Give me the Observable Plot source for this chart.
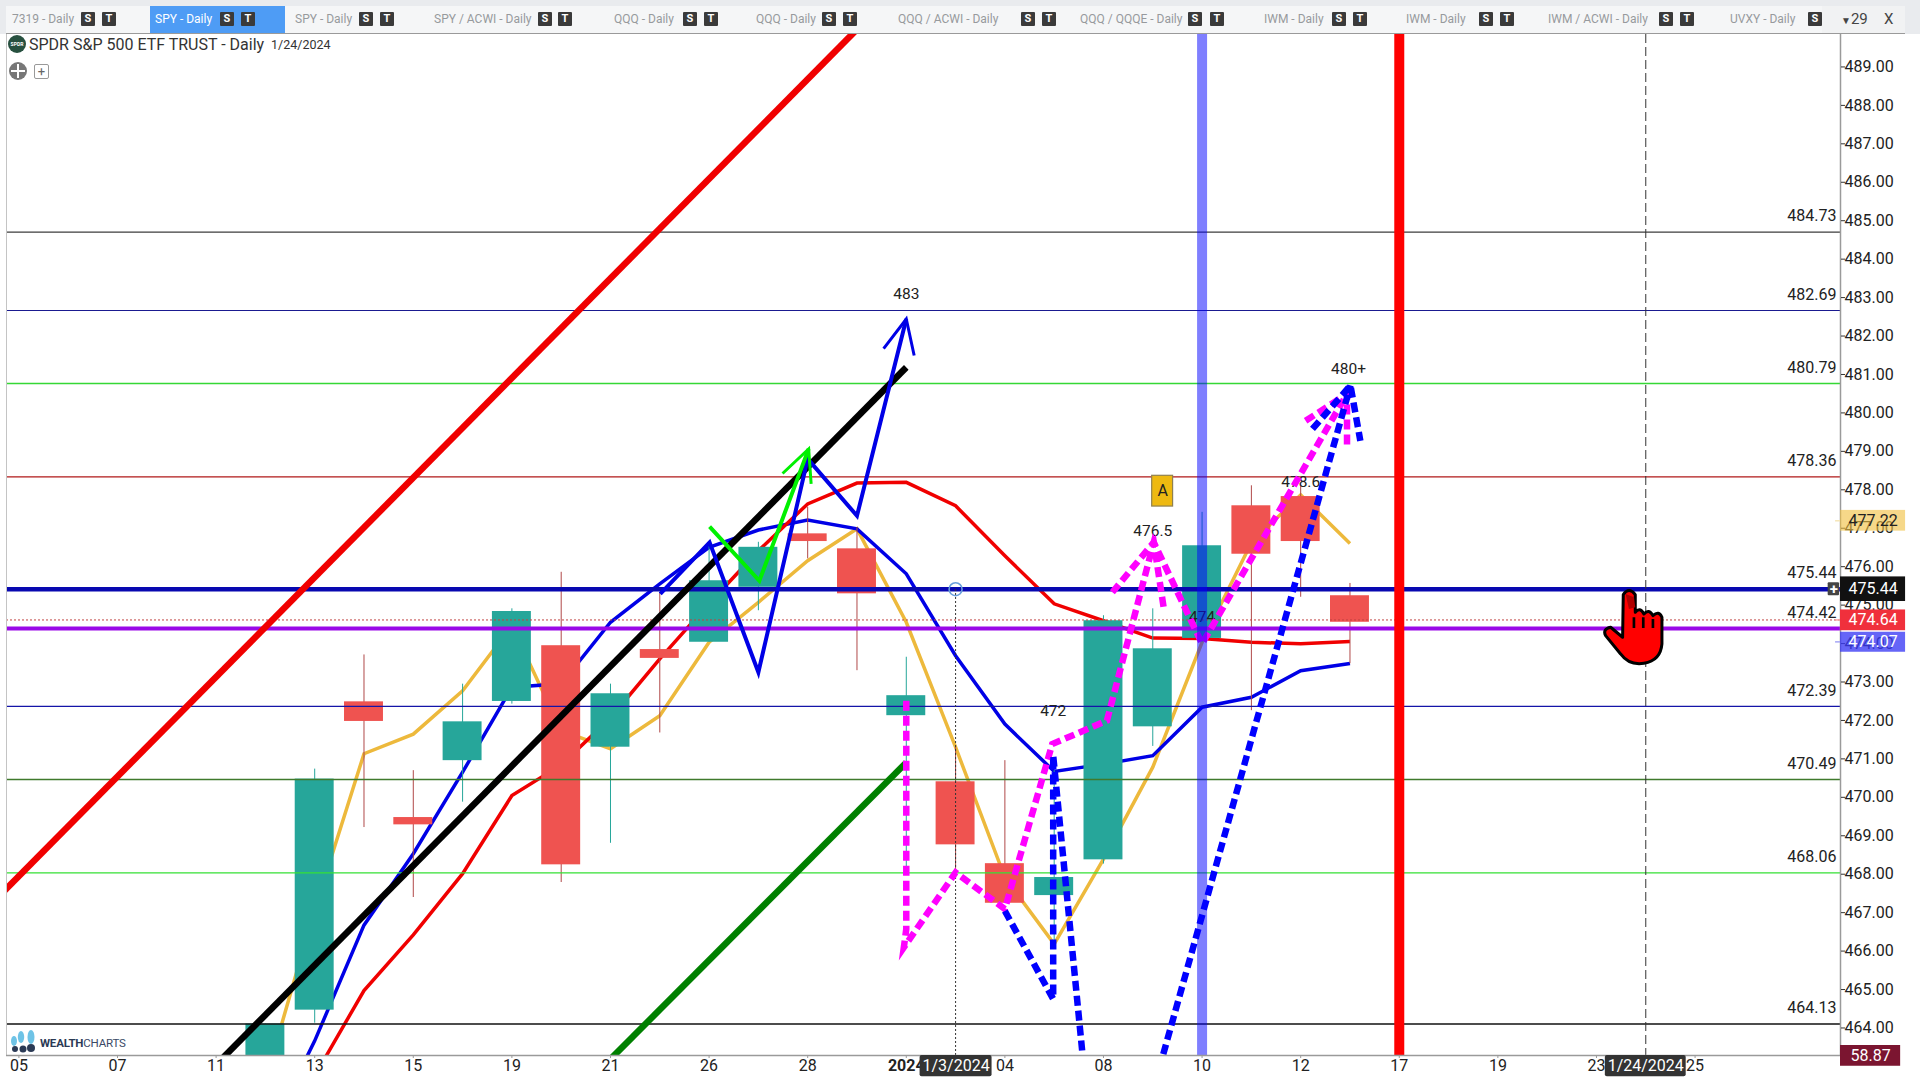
<!DOCTYPE html>
<html>
<head>
<meta charset="utf-8">
<script src="https://cdn.jsdelivr.net/npm/d3@7"></script>
<script src="https://cdn.jsdelivr.net/npm/@observablehq/plot@0.6"></script>
<style>
html,body{margin:0;padding:0;background:#e9ebee;width:1920px;height:1080px;overflow:hidden;font-family:Roboto,sans-serif}
#page{position:relative;width:1920px;height:1080px;overflow:hidden}
#tabs{position:absolute;left:6px;top:6px;width:1899px;height:27px;background:#f5f6f7;border-bottom:1px solid #9a9a9a}
#chart{position:absolute;left:0;top:34px}
.abs{position:absolute;white-space:nowrap}
.tab{font-size:12px;color:#979a9d;line-height:27px;top:6px}
.badge{top:12px;width:14px;height:14px;line-height:14px;background:#3a3a3a;color:#fff;font-size:11px;font-weight:700;text-align:center;border-radius:1px}
</style>
</head>
<body>
<div id="page">
<div id="tabs"></div>
<div id="chart"></div>
</div>
<script>
// ---------- data ----------
const firstCandle = 5;
const opens  = [462.5,464.49,472.51,469.50,470.98,472.52,473.97,471.33,473.87,474.06,475.49,476.88,476.49,472.15,470.43,468.30,467.47,468.40,471.86,474.16,477.61,477.85,475.27];
const closes = [464.13,470.50,472.00,469.31,471.99,474.86,468.27,472.72,473.64,475.66,476.53,476.68,475.32,472.67,468.79,467.27,467.94,474.62,473.89,476.57,476.35,476.68,474.58];
const highs  = [464.13,470.76,473.73,470.72,472.97,474.93,475.88,472.97,475.36,476.57,476.66,477.57,477.04,473.67,471.33,470.98,470.72,474.75,474.93,477.44,478.13,478.11,475.59];
const lows   = [462.5,464.15,469.24,467.42,469.90,472.45,467.81,468.83,471.70,474.06,474.88,476.23,473.32,468.04,468.07,467.27,466.21,468.29,471.35,474.06,472.28,475.23,473.50];

const orangeMA = [462.66,467.10,471.16,471.67,472.80,474.49,471.76,471.29,472.15,474.06,475.10,476.18,477.01,474.58,471.33,467.94,466.21,468.42,470.81,474.06,476.65,477.89,476.63];
const blueMA   = [461.1,463.69,466.70,468.56,470.68,472.89,472.98,474.58,475.58,476.53,476.98,477.24,477.01,475.84,473.71,471.93,470.70,470.89,471.11,472.37,472.63,473.32,473.51];
const redMA    = [462.78,465.0,466.45,468.04,470.07,470.87,472.09,473.63,475.07,476.44,477.66,478.20,478.22,477.61,476.31,475.06,474.62,474.17,474.16,474.06,474.02,474.08];

const levels      = [484.73,482.69,480.79,478.36,475.44,474.42,472.39,470.49,468.06,464.13];
const levelColors = ["#3c3c3c","#1a1a90","#35d835","#b01818","#0808b0","#9a08e8","#1414a8","#3f7a2c","#35e035","#111111"];
const levelWidths = [1.2,1.2,1.4,1.2,4.5,4,1.2,1.4,1.4,1.6];
const lastClose = 474.64;

const redTrend   = [[-1,466.68],[18,491.3]];
const blackTrend = [[3.9,462.94],[18,481.21]];
const greenTrend = [[11.8,462.96],[18,470.93]];

const blueWave     = [[13.01,475.32],[14.01,476.66],[15,473.28],[16,478.83],[17,477.35],[18,482.47]];
const blueWaveHead = [[17.54,481.70],[18,482.47],[18.16,481.52]];
const limeWave     = [[14.01,477.07],[15.02,475.66],[16.02,479.09]];
const limeWaveHead = [[15.49,478.45],[16.02,479.09],[16.07,478.18]];

const magentaPath  = [[18,472.54],[18,466.6],[17.95,466.12],[19,468.07],[20,467.12],[20.96,471.41],[22.07,472.02],[23.02,476.66],[24,474.02],[26.94,480.52]];
const magentaHeadA = [[22.18,475.36],[23.02,476.66],[23.22,474.97]];
const magentaHeadB = [[26.1,479.82],[26.94,480.52],[26.94,479.17]];
const bluePath     = [[20,467.07],[20.98,464.78],[20.98,471.11],[22,457.79],[27.01,480.74]];
const blueHead     = [[26.24,479.61],[27.01,480.74],[27.21,479.30]];

const noteI    = [18,26.97,23,24,26,20.98];
const noteP    = [483.1,481.13,476.94,474.70,478.19,472.24];
const noteText = ["483","480+","476.5","474","478.6","472"];

const yTicks = [464,465,466,467,468,469,470,471,472,473,474,475,476,477,478,479,480,481,482,483,484,485,486,487,488,489];
const xTickIdx    = [0,2,4,6,8,10,12,14,16,20,22,24,26,28,30,32,34];
const xTickLabels = ["05","07","11","13","15","19","21","26","28","04","08","10","12","17","19","23","25"];

const tabNames = ["7319 - Daily","SPY - Daily","SPY - Daily","SPY / ACWI - Daily","QQQ - Daily","QQQ - Daily","QQQ / ACWI - Daily","QQQ / QQQE - Daily","IWM - Daily","IWM - Daily","IWM / ACWI - Daily","UVXY - Daily"];

// ---------- layout ----------
const tabLeft = [12,155,295,434,614,756,898,1080,1264,1406,1548,1730];
const tabS    = [81,220,359,538,683,822,1021,1188,1332,1479,1659,1808];
const tabT    = [102,241,380,558,704,843,1042,1210,1353,1500,1680,null];
const page = document.getElementById("page");
function el(cls, css, html){const d=document.createElement("div");d.className=cls;d.style.cssText=css;d.innerHTML=html;page.appendChild(d);return d;}
el("abs","left:150px;top:6px;width:135px;height:27px;background:#4e9cf5","");
tabNames.forEach((t,i)=>{
  el("abs tab",`left:${tabLeft[i]}px;${i===1?"color:#fff;":""}`,t);
  el("abs badge",`left:${tabS[i]}px`,"S");
  if(tabT[i]!=null) el("abs badge",`left:${tabT[i]}px`,"T");
});
el("abs","left:1822px;top:6px;width:83px;height:27px;background:#f1f2f3","");
el("abs","left:1841px;top:6px;font-size:15px;line-height:27px;color:#444","<span style='font-size:10px'>▼</span>29");
el("abs","left:1884px;top:6px;font-size:15px;line-height:27px;color:#444","X");

// ---------- chart ----------
const xMin=-0.2515,xMax=36.95,yMin=463.31,yMax=489.87;
const candles = opens.map((o,k)=>({i:firstCandle+k,open:o,close:closes[k],high:highs[k],low:lows[k]}));
const up = d=>d.close>=d.open;
const series = (arr,start)=>arr.map((p,k)=>[start+k,p]);
const teal="#26a69a",redBody="#ef5350";
const L = (arr,o)=>Plot.line(arr,{x:d=>d[0],y:d=>d[1],clip:"frame",strokeLinejoin:"miter",strokeLinecap:"butt",strokeMiterlimit:6,...o});

const handSvg = `<svg xmlns='http://www.w3.org/2000/svg' viewBox='0 440 200 240' width='67' height='80'>
<path d='M68 462Q85 438 104 462L104 515Q118 498 130 520Q145 503 157 525Q175 508 184 530L184 610Q180 660 130 668Q85 675 60 640L15 585Q5 565 30 560L66 590Z' fill='#ff0000' stroke='#000' stroke-width='9' stroke-linejoin='round'/>
<path d='M100 530V562M128 530V562M157 535V562' stroke='#000' stroke-width='8' fill='none'/>
<path d='M75 460L100 470L104 500L85 505Z' fill='#b00000'/></svg>`;
const handSrc = "data:image/svg+xml,"+encodeURIComponent(handSvg);

// right side price tags: label, centre price, half height, colours
const tags = [
 {label:"477.22",p:477.22,h:.27,fill:"#f0c040",op:.62,color:"#222",w:400},
 {label:"475.44",p:475.44,h:.32,fill:"#111",op:1,color:"#fff",w:700},
 {label:"474.64",p:474.63,h:.27,fill:"#f0303c",op:1,color:"#fff",w:700},
 {label:"474.07",p:474.06,h:.26,fill:"#3a3af5",op:.78,color:"#fff",w:700},
 {label:"58.87",p:463.30,h:.27,fill:"#7b1530",op:1,color:"#fff",w:700}
];
const dateTags = [
 {label:"1/3/2024",x1:18.28,x2:19.74},
 {label:"1/24/2024",x1:32.18,x2:33.82}
];

const chart = Plot.plot({
  width:1920,height:1046,
  marginLeft:6,marginRight:80,marginTop:0,marginBottom:25,
  x:{type:"linear",domain:[xMin,xMax],axis:null},
  y:{type:"linear",domain:[yMin,yMax],axis:null},
  style:{fontFamily:"Roboto",fontSize:"16px",background:"#fff",color:"#2a2e39",overflow:"visible"},
  marks:[
    // moving averages
    L(series(orangeMA,5),{stroke:"#edb93c",strokeWidth:3.5}),
    L(series(blueMA,5),{stroke:"#0000e6",strokeWidth:3.5}),
    L(series(redMA,6),{stroke:"#f00000",strokeWidth:3.5}),
    // candles
    Plot.ruleX(candles,{x:"i",y1:"low",y2:"high",stroke:d=>up(d)?teal:"#b04848",strokeWidth:1,clip:"frame"}),
    Plot.rect(candles,{x1:d=>d.i-.395,x2:d=>d.i+.395,y1:"open",y2:"close",fill:d=>up(d)?teal:redBody,clip:"frame"}),
    // horizontal levels
    Plot.ruleY(levels,{y:d=>d,stroke:(d,k)=>levelColors[k],strokeWidth:(d,k)=>levelWidths[k],x1:xMin,x2:xMax}),
    Plot.ruleY([lastClose],{x1:xMin,x2:xMax,stroke:"#c04040",strokeWidth:1,strokeDasharray:"2,2"}),
    Plot.text(levels,{x:xMax,y:d=>d,text:d=>d.toFixed(2),textAnchor:"end",dx:-4,dy:-16,fontSize:16,fill:"#222"}),
    // annotation notes under the drawings
    Plot.text(noteText,{x:(d,k)=>noteI[k],y:(d,k)=>noteP[k],text:d=>d,dy:-1,fontSize:15.5,fill:"#222"}),
    // cursor columns
    Plot.ruleX([33],{stroke:"#333",strokeWidth:1,strokeDasharray:"9,4"}),
    Plot.ruleX([19],{y1:yMin,y2:levels[4],stroke:"#333",strokeWidth:1,strokeDasharray:"2,2"}),
    // drawings
    L(redTrend,{stroke:"#f00000",strokeWidth:6.5}),
    L(greenTrend,{stroke:"#008000",strokeWidth:6.5}),
    L(blackTrend,{stroke:"#000",strokeWidth:6.5}),
    L(blueWave,{stroke:"#0000e6",strokeWidth:4}),
    L(blueWaveHead,{stroke:"#0000e6",strokeWidth:3}),
    L(limeWave,{stroke:"#00f000",strokeWidth:4}),
    L(limeWaveHead,{stroke:"#00f000",strokeWidth:3}),
    L(magentaPath,{stroke:"#ff00ff",strokeWidth:6.5,strokeDasharray:"10,5"}),
    L(magentaHeadA,{stroke:"#ff00ff",strokeWidth:6.5,strokeDasharray:"10,5"}),
    L(magentaHeadB,{stroke:"#ff00ff",strokeWidth:6.5,strokeDasharray:"10,5"}),
    L(bluePath,{stroke:"#0000ff",strokeWidth:6.5,strokeDasharray:"10,5"}),
    L(blueHead,{stroke:"#0000ff",strokeWidth:6.5,strokeDasharray:"10,5"}),
    // time bands
    Plot.ruleX([24],{stroke:"#0000ff",strokeOpacity:.5,strokeWidth:10}),
    Plot.ruleX([28],{stroke:"#ff0000",strokeWidth:10}),
    // "A" alert box
    Plot.rect([{i:23.2,p:477.99}],{x1:d=>d.i-.212,x2:d=>d.i+.212,y1:d=>d.p-.40,y2:d=>d.p+.40,fill:"#eeb911",stroke:"#8f8050",strokeWidth:1.2}),
    Plot.text(["A"],{x:23.2,y:477.99,text:d=>d,fontSize:16,fill:"#222"}),
    // ring marker on 1/3
    Plot.dot([[19,levels[4]]],{x:d=>d[0],y:d=>d[1],r:6.5,stroke:"#6a9fdc",strokeWidth:1.6,fill:"none"}),
    // hand
    Plot.image([handSrc],{x:32.76,y:474.45,src:d=>d,width:67,height:80}),
    // frame + axes
    Plot.ruleX([xMax],{stroke:"#9a9a9a",strokeWidth:1.5}),
    Plot.ruleX([xMin],{stroke:"#c4c4c4",strokeWidth:1}),
    Plot.ruleY([yMin],{stroke:"#9a9a9a",strokeWidth:1.5}),
    Plot.axisY({ticks:yTicks,anchor:"right",tickSize:4,tickPadding:0,tickFormat:d=>d.toFixed(2),label:null,fontSize:16,stroke:"#333",fill:"#222",textStroke:"none",dy:-1}),
    Plot.axisX({ticks:xTickIdx,anchor:"bottom",tickSize:3,tickPadding:1,tickFormat:d=>xTickLabels[xTickIdx.indexOf(d)],label:null,fontSize:16,stroke:"#999",fill:"#222"}),
    Plot.axisX({ticks:[18],anchor:"bottom",tickSize:3,tickPadding:1,tickFormat:()=>"2024",label:null,fontSize:16,fontWeight:"bold",stroke:"#999",fill:"#222"}),
    // tick stubs of the price tags
    Plot.ruleY([477.22],{x1:xMax-.1,x2:xMax,stroke:"#f5e6b8",strokeWidth:1.5}),
    Plot.ruleY([474.64],{x1:xMax-.1,x2:xMax,stroke:"#f5a5a5",strokeWidth:1.5}),
    Plot.ruleY([474.07],{x1:xMax-.1,x2:xMax,stroke:"#a5a5f5",strokeWidth:1.5}),
    // "+" button
    Plot.rect([0],{x1:36.7,x2:36.93,y1:475.27,y2:475.61,fill:"#444",rx:1}),
    Plot.text(["+"],{x:36.815,y:475.44,text:d=>d,fill:"#fff",fontWeight:"bold",fontSize:15}),
    // tags
    Plot.rect(tags,{x1:xMax,x2:d=>xMax+(d.label==="58.87"?1.22:1.32),y1:d=>d.p-d.h,y2:d=>d.p+d.h,fill:"fill",fillOpacity:"op",rx:d=>d.label==="475.44"?3:0}),
    Plot.text(tags,{x:d=>xMax+(d.label==="58.87"?.61:.66),y:"p",text:"label",fill:"color",fontWeight:"w",fontSize:16}),
    Plot.rect(dateTags,{x1:"x1",x2:"x2",y1:yMin-.55,y2:yMin,fill:"#333",rx:2}),
    Plot.text(dateTags,{x:d=>(d.x1+d.x2)/2,y:yMin-.28,text:"label",fill:"#fff",fontSize:16})
  ]
});
document.getElementById("chart").appendChild(chart);

// ---------- header overlay ----------
el("abs","left:8px;top:35px;width:18px;height:18px;border-radius:50%;background:#27503f;color:#fff;font-size:5px;font-weight:700;line-height:18px;text-align:center","SPDR");
el("abs","left:29px;top:35px;font-size:16px;line-height:20px;color:#333","SPDR S&amp;P 500 ETF TRUST - Daily");
el("abs","left:271px;top:36px;font-size:12.5px;line-height:18px;color:#333","1/24/2024");
el("abs","left:9px;top:62px;width:18px;height:18px;border-radius:50%;background:#777",
  "<svg width='18' height='18'><path d='M9 2V16M2 9H16' stroke='#fff' stroke-width='2'/></svg>");
el("abs","left:34px;top:64px;width:13px;height:13px;border:1px solid #999;border-radius:2px;color:#666;font-size:13px;line-height:13px;text-align:center","+");
// logo
el("abs","left:10px;top:1030px;width:26px;height:24px",
 `<svg width="26" height="24"><g fill="#6ec3e6"><ellipse cx="4" cy="11" rx="3" ry="5"/><ellipse cx="11" cy="7" rx="3.2" ry="6"/><ellipse cx="21" cy="7" rx="3.5" ry="7"/></g><g fill="#2b3a55"><circle cx="5" cy="19" r="3"/><circle cx="13" cy="19" r="3.5"/><circle cx="21" cy="18" r="4"/></g></svg>`);
el("abs","left:40px;top:1036px;font-size:11.5px;line-height:14px;color:#3a4a66;letter-spacing:-.2px","<b style='color:#2b3a55'>WEALTH</b>CHARTS");
</script>
</body>
</html>
